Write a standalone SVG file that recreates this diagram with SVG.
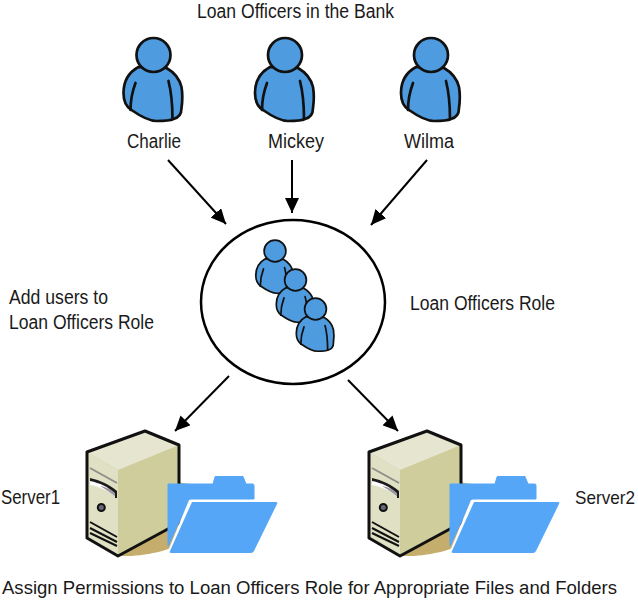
<svg xmlns="http://www.w3.org/2000/svg" xmlns:xlink="http://www.w3.org/1999/xlink" width="638" height="600" viewBox="0 0 638 600">
<style>
text{font-family:"Liberation Sans",Arial,sans-serif;font-size:19.5px;fill:#1a1a1a}
.c{stroke:#000;stroke-width:2;fill:none}
.p{fill:#4f9be0;stroke:#111;stroke-width:2.700;stroke-linejoin:round;stroke-linecap:round}
.l{fill:none;stroke:#111;stroke-width:2.700;stroke-linecap:round}
.k{stroke:#111;stroke-width:3;stroke-linejoin:round}
</style>
<defs>
<marker id="a" markerUnits="userSpaceOnUse" markerWidth="16" markerHeight="14" refX="15" refY="7" orient="auto"><path d="M0 0L15 7L0 14Z" fill="#000"/></marker>
<symbol id="person" overflow="visible">
<path class="p" d="M-15 12C-26 18-30 28-30 38C-30 46-27 52-22 55C-12 62-4 66 3 66C10 66 16 66 20 64C24 63 28 60 28 53C29 46 29 38 28 32C26 24 20 17 13 13Z"/>
<path class="l" d="M-18 28C-21 36-23 46-23 55M15 26C18 38 19 52 19 64"/>
<circle class="p" r="17"/>
</symbol>
<symbol id="srv" overflow="visible">
<path d="M176 482L190 484L190 530L118 556Z" fill="#c5ad6e"/>
<path d="M118 556L179 523L186 525L186 540C170 552 140 557 118 556Z" fill="#c5ad6e"/>
<path d="M87 452L145 431L179 445L179 523L118 556L87 538Z" fill="#cfcd9c"/>
<path d="M87 452L145 431L179 445L118 470Z" fill="#e6e6d0"/>
<path d="M87 452L118 470L118 556L87 538Z" fill="#dfe0c4"/>
<path d="M90 468L117 483" stroke="#8f8f88" stroke-width="2" fill="none"/>
<path d="M90 480C100 482 110 487 116 492L116 497C108 491 98 486 90 485Z" fill="#fff"/>
<path d="M100 486C106 487 112 490 116 493V497C111 493 106 490 100 486Z" fill="#9a9aa0"/>
<path d="M90 478C100 480 110 485 117 491V498H115V493C108 487 100 483 90 481Z" fill="#1a1a1a"/>
<circle cx="101.300" cy="507.500" r="3.500" fill="#667" stroke="#111" stroke-width="2"/>
<path d="M90 522L117 537M90 528L117 542M90 533L117 546" stroke="#111" stroke-width="2" fill="none"/>
<path class="k" d="M87 452L145 431L179 445V523L118 556L87 538Z" fill="none"/>
<path d="M168 484H213L215 477Q215 476 217 476.500H243L246 484H253Q254 484 254 486V499H190L168 546Z" fill="#55a6f7" stroke="#55a6f7" stroke-width="1"/>
<path d="M189 500H258L172 556H166Z" fill="#fff"/>
<path d="M192 502H276Q278 502 277 504L254 551Q253 553 251 553H171Q169 553 170 551Z" fill="#55a6f7"/>
</symbol>
</defs>
<g id="connectors">
<path class="c" marker-end="url(#a)" d="M168 160L226 224"/>
<path class="c" marker-end="url(#a)" d="M292 160V213"/>
<path class="c" marker-end="url(#a)" d="M427 160L371 225"/>
<path class="c" marker-end="url(#a)" d="M229 376L175 431"/>
<path class="c" marker-end="url(#a)" d="M348 380L398 431"/>
</g>
<g id="title"><text x="197" y="17.500" textLength="197" lengthAdjust="spacingAndGlyphs">Loan Officers in the Bank</text></g>
<g id="charlie"><use xlink:href="#person" href="#person" x="153.500" y="55"/><text x="127" y="147.500" textLength="54" lengthAdjust="spacingAndGlyphs">Charlie</text></g>
<g id="mickey"><use xlink:href="#person" href="#person" x="285" y="55"/><text x="268" y="147.500" textLength="56" lengthAdjust="spacingAndGlyphs">Mickey</text></g>
<g id="wilma"><use xlink:href="#person" href="#person" x="431" y="55"/><text x="404" y="147.500" textLength="50" lengthAdjust="spacingAndGlyphs">Wilma</text></g>
<g id="role">
<ellipse cx="293" cy="302" rx="92" ry="82" fill="#fff" stroke="#000" stroke-width="2.500"/>
<use xlink:href="#person" href="#person" transform="translate(275 251) scale(.64)"/>
<use xlink:href="#person" href="#person" transform="translate(295.500 280) scale(.64)"/>
<use xlink:href="#person" href="#person" transform="translate(315.500 309) scale(.64)"/>
</g>
<g id="role-label"><text x="410" y="310" textLength="145" lengthAdjust="spacingAndGlyphs">Loan Officers Role</text></g>
<g id="add-label"><text x="9" y="304" textLength="99" lengthAdjust="spacingAndGlyphs">Add users to</text><text x="9" y="328.500" textLength="145" lengthAdjust="spacingAndGlyphs">Loan Officers Role</text></g>
<g id="server1"><use xlink:href="#srv" href="#srv"/><text x="1" y="504" textLength="59" lengthAdjust="spacingAndGlyphs">Server1</text></g>
<g id="server2"><use xlink:href="#srv" href="#srv" x="282"/><text transform="translate(575 504) scale(1 1.100)" style="font-size:17.500px" textLength="60" lengthAdjust="spacingAndGlyphs">Server2</text></g>
<g id="caption"><text transform="translate(2 594) scale(1 1.100)" style="font-size:17.500px" textLength="615" lengthAdjust="spacingAndGlyphs">Assign Permissions to Loan Officers Role for Appropriate Files and Folders</text></g>
</svg>
